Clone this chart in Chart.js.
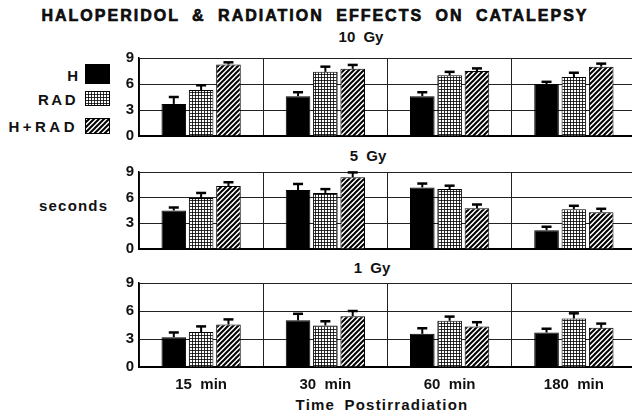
<!DOCTYPE html>
<html>
<head>
<meta charset="utf-8">
<script src="https://cdn.jsdelivr.net/npm/chart.js@4/dist/chart.umd.min.js"></script>
<style>
  html, body { margin: 0; padding: 0; background: #fff; width: 632px; height: 417px; overflow: hidden; }
  body { position: relative; font-family: "Liberation Sans", Arial, sans-serif; color: #111; }
  .txt { position: absolute; white-space: pre; font-weight: bold; }
  .panel { position: absolute; left: 0; }
  .sw { position: absolute; }
</style>
</head>
<body>
<div class="txt" id="title" style="left:315px; top:16px; transform:translate(-50%,-50%); font-size:16px; letter-spacing:2px; word-spacing:6px; -webkit-text-stroke:0.6px #000;">HALOPERIDOL &amp; RADIATION EFFECTS ON CATALEPSY</div>
<div class="txt" style="left:361px; top:36px; transform:translate(-50%,-50%); font-size:15px; font-weight:600; word-spacing:4px;">10 Gy</div>
<div class="txt" style="left:368px; top:155px; transform:translate(-50%,-50%); font-size:15px; font-weight:600; word-spacing:4px;">5 Gy</div>
<div class="txt" style="left:372px; top:267px; transform:translate(-50%,-50%); font-size:15px; font-weight:600; word-spacing:4px;">1 Gy</div>
<div class="txt" style="right:554px; top:75px; transform:translateY(-50%); font-size:15px;">H</div>
<div class="txt" style="right:554px; top:99px; transform:translateY(-50%); font-size:15px; letter-spacing:2.5px;">RAD</div>
<div class="txt" style="right:554px; top:126px; transform:translateY(-50%); font-size:15px; letter-spacing:3.5px;">H+RAD</div>
<canvas class="sw" id="sw0" width="25" height="20" style="left:85px; top:64px;"></canvas>
<canvas class="sw" id="sw1" width="25" height="15" style="left:85px; top:91px;"></canvas>
<canvas class="sw" id="sw2" width="25" height="16" style="left:85px; top:118px;"></canvas>
<div class="txt" style="left:39px; top:205px; transform:translateY(-50%); font-size:15px; font-weight:600; letter-spacing:1.2px;">seconds</div>
<div class="txt" style="left:382px; top:404px; transform:translate(-50%,-50%); font-size:15px; font-weight:600; letter-spacing:1.2px; word-spacing:4px;">Time Postirradiation</div>

<div class="panel" style="top:44px; width:636px; height:106px;"><canvas id="p10"></canvas></div>
<div class="panel" style="top:158px; width:636px; height:105px;"><canvas id="p5"></canvas></div>
<div class="panel" style="top:269px; width:636px; height:123px;"><canvas id="p1"></canvas></div>

<script>
// categories and series
const times = ["15  min", "30  min", "60  min", "180  min"];
const seriesNames = ["H", "RAD", "H+RAD"];
const yTicks = [0, 3, 6, 9];

// 10 Gy
const h10 = [3.7, 4.6, 4.6, 6.0];
const rad10 = [5.3, 7.4, 7.0, 6.8];
const hrad10 = [8.25, 7.75, 7.5, 8.0];
const h10Err = [0.8, 0.45, 0.45, 0.25];
const rad10Err = [0.55, 0.6, 0.4, 0.5];
const hrad10Err = [0.25, 0.45, 0.3, 0.35];

// 5 Gy
const h5 = [4.5, 6.9, 7.2, 2.2];
const rad5 = [5.95, 6.55, 7.0, 4.65];
const hrad5 = [7.35, 8.4, 4.75, 4.3];
const h5Err = [0.35, 0.7, 0.45, 0.4];
const rad5Err = [0.6, 0.45, 0.4, 0.4];
const hrad5Err = [0.45, 0.55, 0.45, 0.4];

// 1 Gy
const h1 = [3.2, 5.0, 3.55, 3.7];
const rad1 = [3.75, 4.45, 4.95, 5.2];
const hrad1 = [4.55, 5.45, 4.35, 4.2];
const h1Err = [0.5, 0.7, 0.6, 0.4];
const rad1Err = [0.6, 0.45, 0.45, 0.55];
const hrad1Err = [0.55, 0.55, 0.45, 0.45];

// fill patterns
function dotPattern() {
  const c = document.createElement("canvas");
  c.width = 3; c.height = 3;
  const g = c.getContext("2d");
  g.fillStyle = "#fff";
  g.fillRect(0, 0, 3, 3);
  g.fillStyle = "rgba(0,0,0,0.8)";
  g.fillRect(0, 0, 3, 1);
  g.fillRect(0, 0, 1, 3);
  return g.createPattern(c, "repeat");
}
function hatchPattern() {
  const c = document.createElement("canvas");
  c.width = 5; c.height = 5;
  const g = c.getContext("2d");
  g.fillStyle = "#fff";
  g.fillRect(0, 0, 5, 5);
  g.strokeStyle = "#000";
  g.lineWidth = 2;
  g.beginPath();
  g.moveTo(-1, 6); g.lineTo(6, -1);
  g.moveTo(-4, 4); g.lineTo(4, -4);
  g.moveTo(1, 9); g.lineTo(9, 1);
  g.stroke();
  return g.createPattern(c, "repeat");
}
const fills = ["#000", dotPattern(), hatchPattern()];

// legend swatches
["sw0", "sw1", "sw2"].forEach((id, i) => {
  const cv = document.getElementById(id);
  const g = cv.getContext("2d");
  g.fillStyle = fills[i];
  g.fillRect(0, 0, cv.width, cv.height);
  g.strokeStyle = "#000";
  g.lineWidth = 1;
  g.strokeRect(0.5, 0.5, cv.width - 1, cv.height - 1);
});

// upper error bars with caps
const errorBars = {
  id: "errorBars",
  afterDatasetsDraw(chart) {
    const ctx = chart.ctx;
    const y = chart.scales.y;
    ctx.save();
    ctx.strokeStyle = "#000";
    chart.data.datasets.forEach((ds, di) => {
      const meta = chart.getDatasetMeta(di);
      meta.data.forEach((bar, i) => {
        const top = y.getPixelForValue(ds.data[i] + ds.errors[i]);
        ctx.lineWidth = 2;
        ctx.beginPath();
        ctx.moveTo(bar.x, bar.y);
        ctx.lineTo(bar.x, top);
        ctx.stroke();
        ctx.lineWidth = 2.5;
        ctx.beginPath();
        ctx.moveTo(bar.x - 5, top);
        ctx.lineTo(bar.x + 5, top);
        ctx.stroke();
      });
    });
    ctx.restore();
  }
};

function makePanel(id, values, errors, showX) {
  new Chart(document.getElementById(id), {
    type: "bar",
    data: {
      labels: times,
      datasets: seriesNames.map((name, i) => ({
        label: name,
        data: values[i],
        errors: errors[i],
        backgroundColor: fills[i],
        borderColor: "#000",
        borderWidth: 1,
        barPercentage: 0.9,
        categoryPercentage: 0.66
      }))
    },
    options: {
      responsive: true,
      maintainAspectRatio: false,
      animation: false,
      layout: { padding: { top: 10, bottom: showX ? 0 : 10, right: 0, left: 0 } },
      plugins: { legend: { display: false }, tooltip: { enabled: false } },
      scales: {
        x: {
          grid: { color: "#222", lineWidth: 1, offset: true, drawTicks: false },
          border: { color: "#000", width: 2 },
          ticks: {
            display: showX,
            padding: 9,
            color: "#111",
            font: { family: "Liberation Sans", size: 15, weight: "bold" }
          },
          afterFit: s => { s.height = showX ? 25 : 0; }
        },
        y: {
          min: 0, max: 9,
          afterBuildTicks: s => { s.ticks = yTicks.map(v => ({ value: v })); },
          grid: { color: "#222", lineWidth: 1, drawTicks: false },
          border: { color: "#000", width: 1.5 },
          ticks: {
            padding: 5,
            color: "#111",
            font: { family: "Liberation Sans", size: 15, weight: "bold" }
          },
          afterFit: s => { s.width = 139; }
        }
      }
    },
    plugins: [errorBars]
  });
}

makePanel("p10", [h10, rad10, hrad10], [h10Err, rad10Err, hrad10Err], false);
makePanel("p5", [h5, rad5, hrad5], [h5Err, rad5Err, hrad5Err], false);
makePanel("p1", [h1, rad1, hrad1], [h1Err, rad1Err, hrad1Err], true);
</script>
</body>
</html>
